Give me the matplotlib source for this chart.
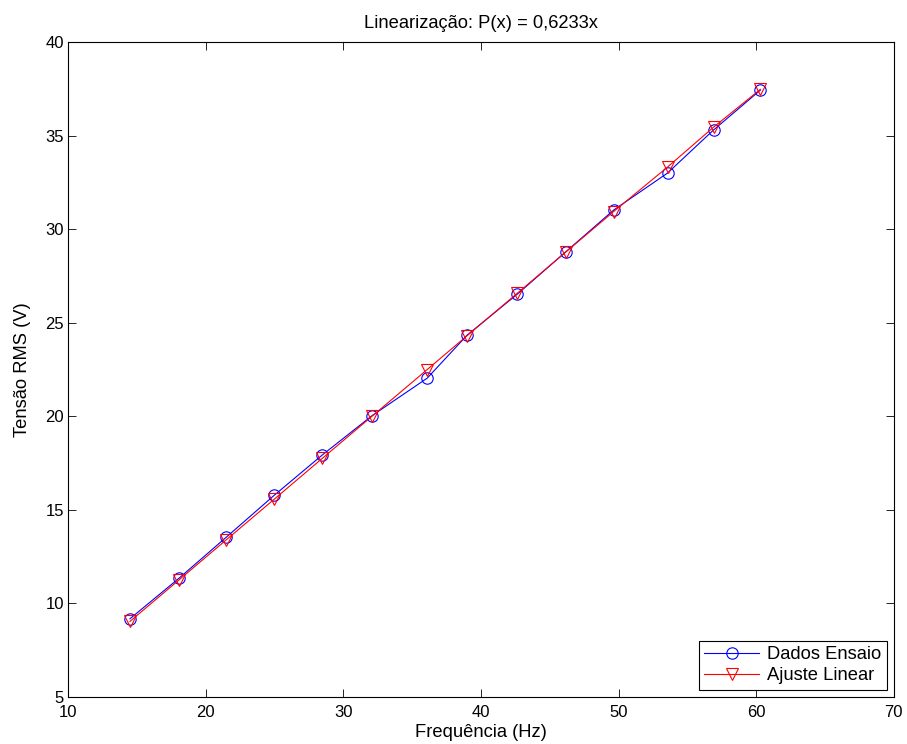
import matplotlib
matplotlib.use("Agg")
import matplotlib.pyplot as plt

plt.rcParams['font.family'] = ['Liberation Sans', 'DejaVu Sans']

freq = [14.5, 18.07, 21.5, 25.0, 28.47, 32.1, 36.1, 39.0, 42.65, 46.15, 49.64, 53.56, 56.9, 60.3]
tensao = [9.18, 11.35, 13.54, 15.79, 17.93, 20.04, 22.04, 24.34, 26.53, 28.78, 31.02, 33.0, 35.3, 37.43]
ajuste = [9.04, 11.26, 13.40, 15.58, 17.75, 20.01, 22.50, 24.31, 26.58, 28.77, 30.94, 33.32, 35.45, 37.47]

fig = plt.figure(figsize=(9.07, 7.44), dpi=100)
ax = fig.add_axes([0.075, 0.0632, 0.9105, 0.8803])

ax.plot(freq, tensao, color="blue", lw=0.8, marker="o", ms=8.2,
        mfc="none", mec="blue", mew=0.8, label="Dados Ensaio")
ax.plot(freq, ajuste, color="red", lw=0.8, marker="v", ms=9,
        mfc="none", mec="red", mew=0.8, label="Ajuste Linear")

ax.set_xlim(10, 70)
ax.set_ylim(5, 40)
ax.set_xticks(range(10, 71, 10))
ax.set_yticks(range(5, 41, 5))
ax.tick_params(direction="in", top=True, right=True, labelsize=12, length=6, width=0.6)
ax.tick_params(axis="x", pad=6)
ax.tick_params(axis="y", pad=3)
for s in ax.spines.values():
    s.set_linewidth(0.8)

ax.set_xlabel("Frequência (Hz)", fontsize=13.2, labelpad=3)
ax.set_ylabel("Tensão RMS (V)", fontsize=13.2, labelpad=10)
ax.set_title("Linearização: P(x) = 0,6233x", fontsize=13.2, pad=10)

leg = ax.legend(loc="lower right", fontsize=13.2, fancybox=False, framealpha=1,
                edgecolor="black", borderaxespad=0.4, handlelength=3.0,
                handletextpad=0.4, labelspacing=0.2, borderpad=0.3)
leg.get_frame().set_linewidth(0.8)

fig.savefig("out.png", dpi=100)
